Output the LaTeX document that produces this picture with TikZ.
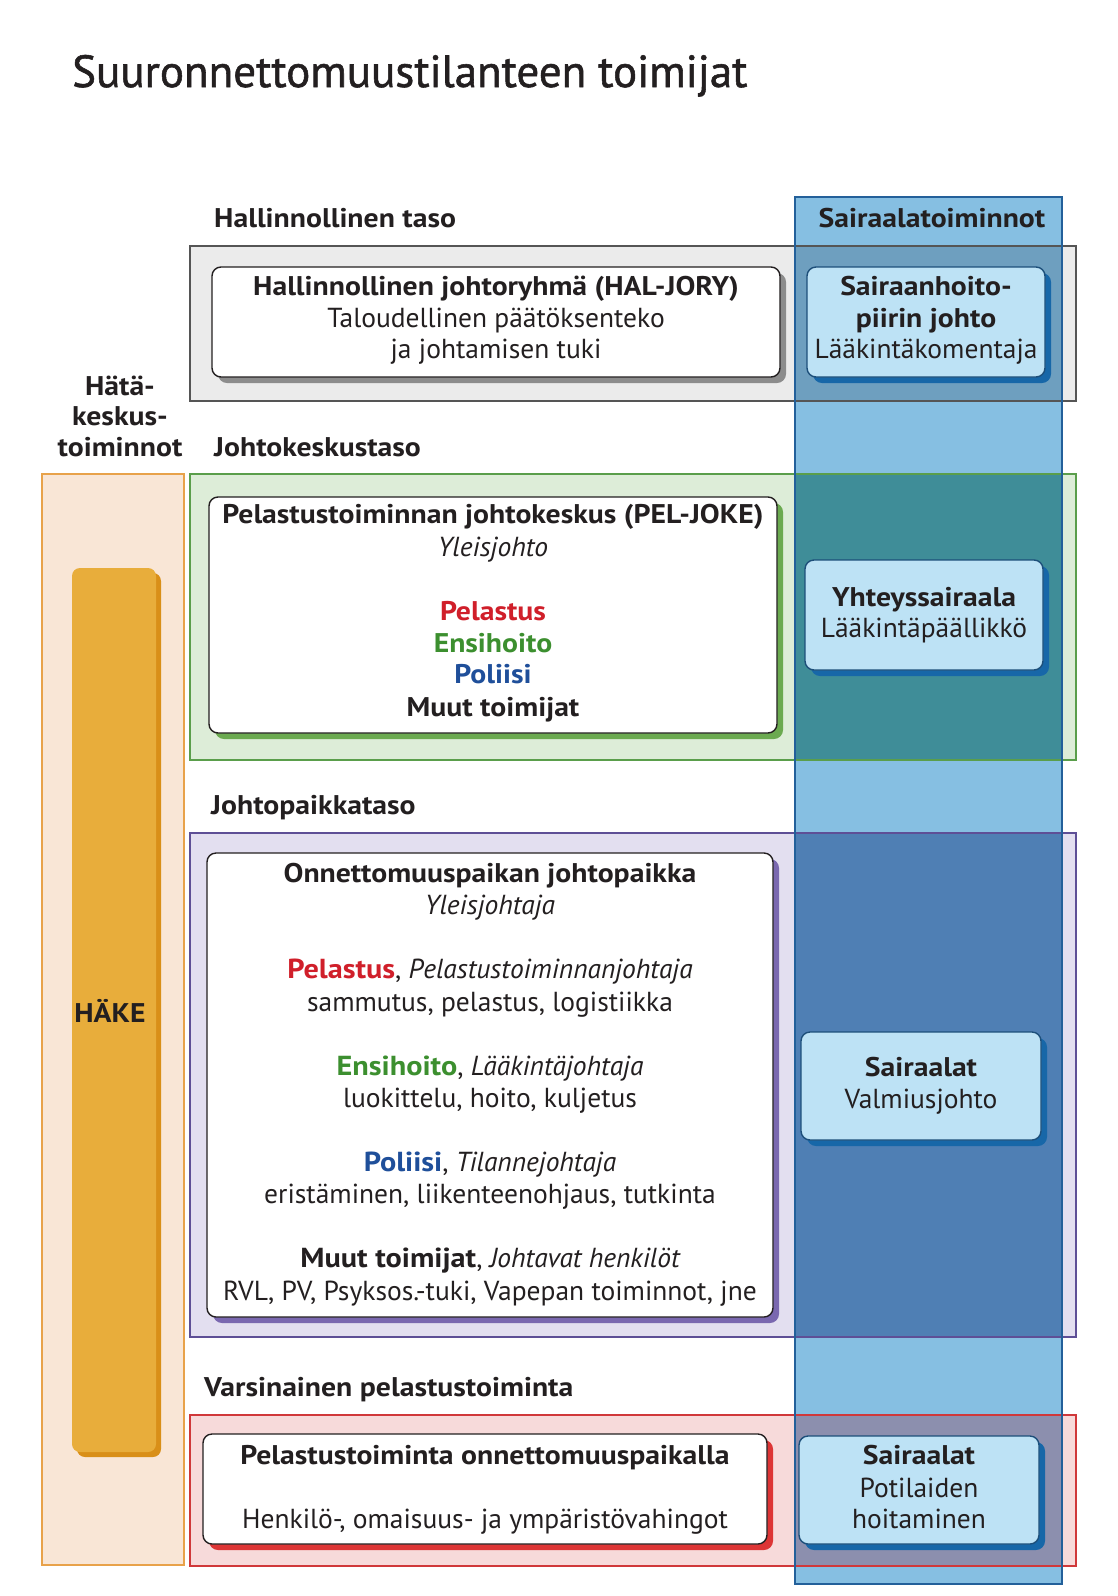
\documentclass[tikz,border=0pt]{standalone}
\usepackage{fontspec}
\setmainfont{PT Sans}[BoldFeatures={FakeStretch=1.1}]
\newfontfamily\titlefont{PT Sans}[FakeBold=1.2]
\usetikzlibrary{shadows}
\definecolor{ink}{HTML}{231F20}
\definecolor{grayfill}{HTML}{EBEBEB}
\definecolor{grayline}{HTML}{555555}
\definecolor{grayshadow}{HTML}{8C8C8C}
\definecolor{greenfill}{HTML}{DDEDD8}
\definecolor{greenline}{HTML}{5A9E4B}
\definecolor{greenshadow}{HTML}{6BAA50}
\definecolor{purplefill}{HTML}{E3DFF0}
\definecolor{purpleline}{HTML}{5E4F96}
\definecolor{purpleshadow}{HTML}{7A68B0}
\definecolor{redfill}{HTML}{F7DADA}
\definecolor{redline}{HTML}{D0383A}
\definecolor{redshadow}{HTML}{DD3535}
\definecolor{orangefill}{HTML}{F9E6D6}
\definecolor{orangeline}{HTML}{E8A24A}
\definecolor{goldfill}{HTML}{E8AD3B}
\definecolor{goldshadow}{HTML}{D98F18}
\definecolor{colblue}{HTML}{86BFE2}
\definecolor{colgray}{HTML}{6E9FBF}
\definecolor{colgreen}{HTML}{3F8D98}
\definecolor{colpurple}{HTML}{4F7FB4}
\definecolor{colred}{HTML}{8C8FAE}
\definecolor{colline}{HTML}{23609A}
\definecolor{boxblue}{HTML}{BDE2F5}
\definecolor{boxline}{HTML}{1D4F7A}
\definecolor{boxshadow}{HTML}{1767A8}
\definecolor{tred}{HTML}{D01F2A}
\definecolor{tgreen}{HTML}{3C8F2F}
\definecolor{tblue}{HTML}{1F4F9A}
\tikzset{
  txt/.style={font=\fontsize{27.5}{32}\selectfont, inner sep=0pt, text=ink, anchor=base},
  lbl/.style={font=\fontsize{27}{32}\selectfont\bfseries, inner sep=0pt, text=ink, anchor=base},
  panel/.style={rectangle, inner sep=0pt, outer sep=0pt, anchor=north west},
  wbox/.style={panel, fill=white, draw=ink, line width=1.4pt, rounded corners=9pt,
    drop shadow={shadow xshift=6pt, shadow yshift=-6pt, fill=#1, opacity=1}},
  bbox/.style={panel, fill=boxblue, draw=boxline, line width=1.4pt, rounded corners=9pt,
    drop shadow={shadow xshift=6pt, shadow yshift=-6pt, fill=boxshadow, opacity=1}},
}
\begin{document}
\begin{tikzpicture}[x=1pt,y=-1pt]
\useasboundingbox (0,0) rectangle (1117,1596);
\fill[white] (0,0) rectangle (1117,1596);

% title
\node[txt, anchor=base west, font=\titlefont\fontsize{45}{50}\selectfont] (title) at (72,87) {Suuronnettomuustilanteen toimijat};

% emergency centre column
\node[panel, fill=orangefill, draw=orangeline, line width=1.2pt, minimum width=142pt, minimum height=1091pt] (hakecol) at (42,474) {};
\node[panel, fill=goldfill, rounded corners=8pt, minimum width=84pt, minimum height=884pt,
  drop shadow={shadow xshift=5pt, shadow yshift=-5pt, fill=goldshadow, opacity=1}] (hakebar) at (72,568) {};
\node[lbl] (hake) at (110,1022) {HÄKE};

% bands (fills)
\node[panel, fill=grayfill, minimum width=886pt, minimum height=155pt] (bandA) at (190,246) {};
\node[panel, fill=greenfill, minimum width=886pt, minimum height=286pt] (bandB) at (190,474) {};
\node[panel, fill=purplefill, minimum width=886pt, minimum height=504pt] (bandC) at (190,833) {};
\node[panel, fill=redfill, minimum width=886pt, minimum height=151pt] (bandD) at (190,1415) {};

% hospital column
\node[panel, fill=colblue, minimum width=267pt, minimum height=1387pt] (hcol) at (795,197) {};
\fill[colgray] (795,246) rectangle (1062,401);
\fill[colgreen] (795,474) rectangle (1062,760);
\fill[colpurple] (795,833) rectangle (1062,1337);
\fill[colred] (795,1415) rectangle (1062,1566);

% band outlines
\draw[grayline, line width=1.3pt] (bandA.north west) rectangle (bandA.south east);
\draw[greenline, line width=1.3pt] (bandB.north west) rectangle (bandB.south east);
\draw[purpleline, line width=1.3pt] (bandC.north west) rectangle (bandC.south east);
\draw[redline, line width=1.3pt] (bandD.north west) rectangle (bandD.south east);
\draw[colline, line width=1.2pt] (hcol.north west) rectangle (hcol.south east);

% level labels
\node[lbl, anchor=base west] (lA) at (214,227) {Hallinnollinen taso};
\node[lbl, anchor=base west] (lB) at (214,456) {Johtokeskustaso};
\node[lbl, anchor=base west] (lC) at (211,814) {Johtopaikkataso};
\node[lbl, anchor=base west] (lD) at (204,1396) {Varsinainen pelastustoiminta};
\node[lbl] (lH) at (932,227) {Sairaalatoiminnot};
\node[lbl] (hk1) at (120,395) {Hätä-};
\node[lbl] (hk2) at (120,425) {keskus-};
\node[lbl] (hk3) at (120,456) {toiminnot};

% white boxes
\node[wbox=grayshadow, minimum width=568pt, minimum height=110pt] (halbox) at (212,267) {};
\node[wbox=greenshadow, minimum width=568pt, minimum height=236pt] (pelbox) at (209,497) {};
\node[wbox=purpleshadow, minimum width=566pt, minimum height=464pt] (onnbox) at (207,853) {};
\node[wbox=redshadow, minimum width=564pt, minimum height=110pt] (varbox) at (203,1434) {};

% blue boxes
\node[bbox, minimum width=238pt, minimum height=110pt] (b1) at (807,267) {};
\node[bbox, minimum width=238pt, minimum height=110pt] (b2) at (805,560) {};
\node[bbox, minimum width=240pt, minimum height=108pt] (b3) at (801,1032) {};
\node[bbox, minimum width=240pt, minimum height=108pt] (b4) at (799,1436) {};

% HAL-JORY text
\node[lbl] (t1) at (halbox.center |- 0,295) {Hallinnollinen johtoryhmä (HAL-JORY)};
\node[txt] (t2) at (halbox.center |- 0,327) {Taloudellinen päätöksenteko};
\node[txt] (t3) at (halbox.center |- 0,358) {ja johtamisen tuki};

% PEL-JOKE text
\node[lbl] (p1) at (pelbox.center |- 0,523) {Pelastustoiminnan johtokeskus (PEL-JOKE)};
\node[txt] (p2) at (pelbox.center |- 0,556) {\itshape Yleisjohto};
\node[lbl, text=tred] (p3) at (pelbox.center |- 0,620) {Pelastus};
\node[lbl, text=tgreen] (p4) at (pelbox.center |- 0,652) {Ensihoito};
\node[lbl, text=tblue] (p5) at (pelbox.center |- 0,683) {Poliisi};
\node[lbl] (p6) at (pelbox.center |- 0,716) {Muut toimijat};

% Onnettomuuspaikka text
\node[lbl] (o1) at (onnbox.center |- 0,882) {Onnettomuuspaikan johtopaikka};
\node[txt] (o2) at (onnbox.center |- 0,914) {\itshape Yleisjohtaja};
\node[txt] (o3) at (onnbox.center |- 0,978) {\textbf{\color{tred}Pelastus}, \itshape Pelastustoiminnanjohtaja};
\node[txt] (o4) at (onnbox.center |- 0,1011) {sammutus, pelastus, logistiikka};
\node[txt] (o5) at (onnbox.center |- 0,1075) {\textbf{\color{tgreen}Ensihoito}, \itshape Lääkintäjohtaja};
\node[txt] (o6) at (onnbox.center |- 0,1107) {luokittelu, hoito, kuljetus};
\node[txt] (o7) at (onnbox.center |- 0,1171) {\textbf{\color{tblue}Poliisi}, \itshape Tilannejohtaja};
\node[txt] (o8) at (onnbox.center |- 0,1203) {eristäminen, liikenteenohjaus, tutkinta};
\node[txt] (o9) at (onnbox.center |- 0,1267) {\textbf{Muut toimijat}, \itshape Johtavat henkilöt};
\node[txt] (o10) at (onnbox.center |- 0,1300) {RVL, PV, Psyksos.-tuki, Vapepan toiminnot, jne};

% Varsinainen text
\node[lbl] (v1) at (varbox.center |- 0,1464) {Pelastustoiminta onnettomuuspaikalla};
\node[txt] (v2) at (varbox.center |- 0,1528) {Henkilö-, omaisuus- ja ympäristövahingot};

% blue box texts
\node[lbl] (s1) at (b1.center |- 0,295) {Sairaanhoito-};
\node[lbl] (s2) at (b1.center |- 0,327) {piirin johto};
\node[txt] (s3) at (b1.center |- 0,358) {Lääkintäkomentaja};
\node[lbl] (y1) at (b2.center |- 0,606) {Yhteyssairaala};
\node[txt] (y2) at (b2.center |- 0,637) {Lääkintäpäällikkö};
\node[lbl] (r1) at (b3.center |- 0,1076) {Sairaalat};
\node[txt] (r2) at (b3.center |- 0,1108) {Valmiusjohto};
\node[lbl] (q1) at (b4.center |- 0,1464) {Sairaalat};
\node[txt] (q2) at (b4.center |- 0,1497) {Potilaiden};
\node[txt] (q3) at (b4.center |- 0,1528) {hoitaminen};
\end{tikzpicture}
\end{document}
